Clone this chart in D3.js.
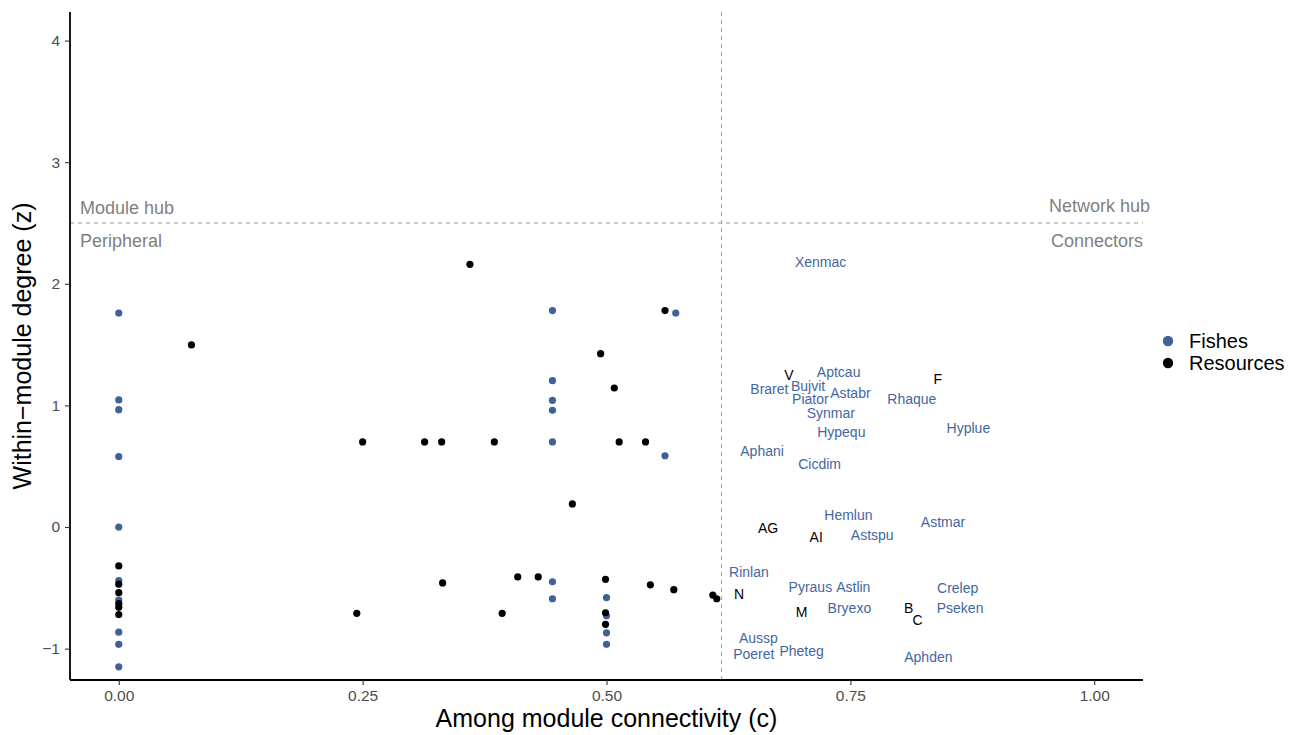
<!DOCTYPE html>
<html>
<head>
<meta charset="utf-8">
<script src="https://cdn.jsdelivr.net/npm/d3@7"></script>
<style>
  html, body { margin: 0; padding: 0; background: #fff; }
  svg { display: block; font-family: "Liberation Sans", Arial, sans-serif; }
</style>
</head>
<body>
<svg id="chart" width="1300" height="735"></svg>
<script>
// Fishes drawn as points (among-module connectivity c, within-module degree z)
const fishPointC = [0, 0, 0, 0, 0, 0, 0, 0, 0, 0,
  0.4446, 0.4446, 0.4446, 0.4446, 0.4446, 0.4446, 0.4446,
  0.5, 0.5, 0.5, 0.5, 0.56, 0.571];
const fishPointZ = [1.76, 1.045, 0.965, 0.58, 0, -0.44, -0.60, -0.865, -0.965, -1.15,
  1.78, 1.203, 1.042, 0.96, 0.70, -0.45, -0.59,
  -0.58, -0.73, -0.87, -0.965, 0.586, 1.76];

// Resources drawn as points
const resPointC = [0, 0, 0, 0, 0, 0,
  0.0745, 0.244, 0.25, 0.3135, 0.331, 0.332, 0.36, 0.385, 0.393, 0.409, 0.43,
  0.465, 0.494, 0.499, 0.499, 0.499, 0.508, 0.513, 0.54, 0.545, 0.56, 0.569,
  0.609, 0.613];
const resPointZ = [-0.32, -0.47, -0.54, -0.63, -0.66, -0.72,
  1.497, -0.71, 0.70, 0.70, 0.70, -0.46, 2.16, 0.70, -0.71, -0.41, -0.41,
  0.19, 1.425, -0.43, -0.705, -0.80, 1.143, 0.70, 0.70, -0.475, 1.78, -0.515,
  -0.56, -0.59];

// Connector fishes, drawn as their names
const fishLabelName = ["Xenmac", "Aptcau", "Braret", "Bujvit", "Astabr", "Piator", "Rhaque",
  "Synmar", "Hypequ", "Hyplue", "Aphani", "Cicdim", "Hemlun", "Astmar", "Astspu", "Rinlan",
  "Pyraus", "Astlin", "Crelep", "Bryexo", "Pseken", "Aussp", "Poeret", "Pheteg", "Aphden"];
const fishLabelC = [0.7195, 0.738, 0.667, 0.7066, 0.75, 0.709, 0.813,
  0.73, 0.7407, 0.871, 0.6595, 0.7185, 0.748, 0.845, 0.7724, 0.646,
  0.709, 0.753, 0.86, 0.749, 0.8625, 0.6557, 0.651, 0.70, 0.83];
const fishLabelZ = [2.18, 1.277, 1.135, 1.162, 1.10, 1.053, 1.05,
  0.935, 0.784, 0.814, 0.625, 0.518, 0.099, 0.044, -0.066, -0.367,
  -0.496, -0.496, -0.504, -0.668, -0.668, -0.91, -1.04, -1.02, -1.066];

// Connector resources, drawn as their codes
const resLabelName = ["V", "F", "AG", "AI", "N", "M", "B", "C"];
const resLabelC = [0.687, 0.8397, 0.6656, 0.715, 0.636, 0.70, 0.8097, 0.819];
const resLabelZ = [1.25, 1.217, -0.011, -0.08, -0.553, -0.70, -0.668, -0.765];

// Role thresholds and axis ticks
const cThreshold = 0.618;
const zThreshold = 2.5;
const xTicks = [0, 0.25, 0.5, 0.75, 1.0];
const yTicks = [-1, 0, 1, 2, 3, 4];

const groupNames = ["Fishes", "Resources"];
const groupColors = ["#3f6198", "#000000"];
const fishTextColor = "#4467a0";

const svg = d3.select("#chart");
const plotLeft = 70, plotRight = 1143, plotTop = 12, plotBottom = 680;

const x = d3.scaleLinear().domain([-0.05, 1.05]).range([plotLeft, plotRight]);
const y = d3.scaleLinear().domain([-1.258, 4.235]).range([plotBottom, plotTop]);

// Threshold lines
svg.append("line")
  .attr("x1", x(cThreshold)).attr("x2", x(cThreshold))
  .attr("y1", plotTop).attr("y2", plotBottom)
  .attr("stroke", "#9a9a9a").attr("stroke-width", 1).attr("stroke-dasharray", "4,4");
svg.append("line")
  .attr("x1", plotLeft).attr("x2", plotRight)
  .attr("y1", y(zThreshold)).attr("y2", y(zThreshold))
  .attr("stroke", "#9a9a9a").attr("stroke-width", 1).attr("stroke-dasharray", "4,4");

// Role names
const roleColor = "#7f7f7f";
const roles = [
  { t: "Module hub", anchor: "start", px: plotLeft + 10, dz: 15 },
  { t: "Peripheral", anchor: "start", px: plotLeft + 10, dz: -18 },
  { t: "Network hub", anchor: "end", px: plotRight + 7, dz: 17 },
  { t: "Connectors", anchor: "end", px: plotRight, dz: -18 }
];
svg.append("g").selectAll("text").data(roles).join("text")
  .attr("x", d => d.px)
  .attr("y", d => y(zThreshold) - d.dz)
  .attr("dy", "0.35em")
  .attr("text-anchor", d => d.anchor)
  .attr("font-size", 18)
  .attr("fill", roleColor)
  .text(d => d.t);

// Axes
const xAxis = svg.append("g")
  .attr("transform", `translate(0,${plotBottom})`)
  .call(d3.axisBottom(x).tickValues(xTicks).tickFormat(d3.format(".2f")).tickSize(5).tickPadding(5));
const yAxis = svg.append("g")
  .attr("transform", `translate(${plotLeft},0)`)
  .call(d3.axisLeft(y).tickValues(yTicks).tickFormat(d => d < 0 ? "\u2212" + Math.abs(d) : d).tickSize(5).tickPadding(5));
[xAxis, yAxis].forEach(a => {
  a.select(".domain").attr("stroke", "#000").attr("stroke-width", 1.8);
  a.selectAll(".tick line").attr("stroke", "#333").attr("stroke-width", 1.1);
  a.selectAll(".tick text").attr("fill", "#4d4d4d").attr("font-size", 15.5)
    .attr("font-family", "'Liberation Sans', Arial, sans-serif");
});
yAxis.select(".domain").attr("d", `M0,${plotTop}V${plotBottom}`);
xAxis.select(".domain").attr("d", `M${plotLeft},0H${plotRight}`);

// Axis titles
svg.append("text")
  .attr("x", x(0.5)).attr("y", 727)
  .attr("text-anchor", "middle").attr("font-size", 25).attr("fill", "#000")
  .text("Among module connectivity (c)");
svg.append("text")
  .attr("transform", `translate(31,${(plotTop + plotBottom) / 2}) rotate(-90)`)
  .attr("text-anchor", "middle").attr("font-size", 25).attr("fill", "#000")
  .text("Within\u2212module degree (z)");

// Points
const fishPts = fishPointC.map((c, i) => ({ c, z: fishPointZ[i] }));
const resPts = resPointC.map((c, i) => ({ c, z: resPointZ[i] }));
svg.append("g").selectAll("circle").data(fishPts).join("circle")
  .attr("cx", d => x(d.c)).attr("cy", d => y(d.z)).attr("r", 3.6)
  .attr("fill", groupColors[0]);
svg.append("g").selectAll("circle").data(resPts).join("circle")
  .attr("cx", d => x(d.c)).attr("cy", d => y(d.z)).attr("r", 3.6)
  .attr("fill", groupColors[1]);

// Connector labels
const fishLbl = fishLabelName.map((n, i) => ({ n, c: fishLabelC[i], z: fishLabelZ[i] }));
const resLbl = resLabelName.map((n, i) => ({ n, c: resLabelC[i], z: resLabelZ[i] }));
svg.append("g").selectAll("text").data(fishLbl).join("text")
  .attr("x", d => x(d.c)).attr("y", d => y(d.z)).attr("dy", "0.36em")
  .attr("text-anchor", "middle").attr("font-size", 14).attr("fill", fishTextColor)
  .text(d => d.n);
svg.append("g").selectAll("text").data(resLbl).join("text")
  .attr("x", d => x(d.c)).attr("y", d => y(d.z)).attr("dy", "0.36em")
  .attr("text-anchor", "middle").attr("font-size", 14).attr("fill", "#000")
  .text(d => d.n);

// Legend
const legend = svg.append("g").attr("transform", "translate(1168,341)");
groupNames.forEach((g, i) => {
  legend.append("circle").attr("cx", 0).attr("cy", i * 22).attr("r", 5.2).attr("fill", groupColors[i]);
  legend.append("text").attr("x", 21).attr("y", i * 22).attr("dy", "0.36em")
    .attr("font-size", 20).attr("fill", "#000").text(g);
});
</script>
</body>
</html>
